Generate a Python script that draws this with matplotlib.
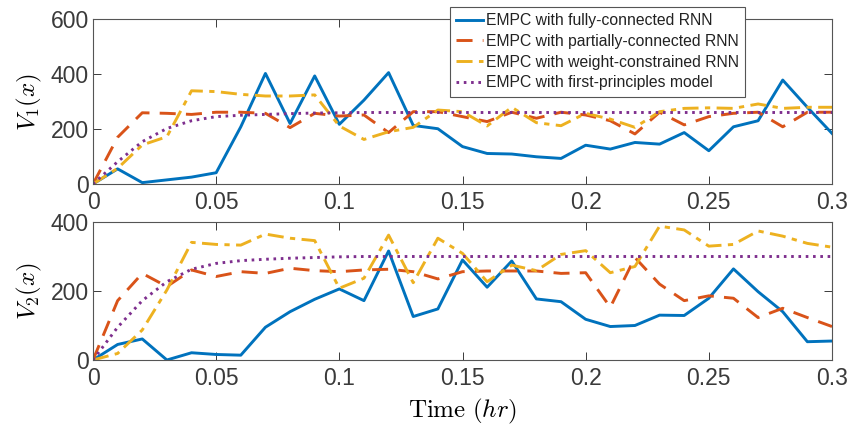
import numpy as np
import matplotlib
matplotlib.use("Agg")
import matplotlib.pyplot as plt

plt.rcParams['mathtext.fontset'] = 'cm'
plt.rcParams['font.family'] = ['Liberation Sans', 'DejaVu Sans']

t = [round(0.01 * i, 2) for i in range(31)]

labels = ["EMPC with fully-connected RNN",
          "EMPC with partially-connected RNN",
          "EMPC with weight-constrained RNN",
          "EMPC with first-principles model"]

v1_full = [0, 55, 5, 15, 25, 41, 208, 402, 220, 393, 217, 305, 405, 213, 201, 136,
           111, 109, 99, 93, 141, 127, 151, 145, 187, 121, 208, 230, 378, 279, 184]
v1_partial = [0, 170, 259, 257, 253, 261, 261, 257, 205, 257, 247, 251, 187, 263, 263, 245,
              227, 261, 239, 261, 251, 230, 182, 261, 215, 245, 257, 261, 208, 261, 261]
v1_weight = [0, 57, 142, 172, 339, 336, 326, 320, 320, 324, 211, 162, 190, 206, 269, 263,
             211, 279, 223, 212, 257, 236, 206, 263, 275, 277, 275, 291, 275, 279, 279]
v1_fp = [0, 81, 154, 202, 230, 245, 250, 253, 256, 258, 259, 260, 260, 260, 260, 260,
         260, 260, 260, 260, 260, 260, 260, 260, 260, 260, 260, 260, 260, 260, 260]

v2_full = [0, 45, 61, 0, 21, 16, 14, 95, 140, 176, 206, 172, 316, 126, 148, 290,
           211, 287, 177, 169, 118, 97, 100, 130, 129, 179, 264, 198, 140, 53, 55]
v2_partial = [0, 172, 251, 213, 261, 242, 256, 251, 266, 259, 256, 261, 263, 256, 235, 256,
              258, 258, 258, 251, 253, 153, 297, 220, 172, 186, 179, 123, 150, 123, 97]
v2_weight = [0, 19, 87, 203, 341, 335, 333, 365, 353, 346, 208, 237, 362, 224, 353, 309,
             227, 275, 259, 306, 317, 253, 271, 388, 377, 330, 335, 374, 359, 338, 327]
v2_fp = [0, 95, 172, 227, 263, 280, 288, 292, 295, 297, 299, 300, 300, 300, 300, 300,
         300, 300, 300, 300, 300, 300, 300, 300, 300, 300, 300, 300, 300, 300, 300]

colors = ['#0072BD', '#D95319', '#EDB120', '#7E2F8E']
styles = [dict(linestyle='-'),
          dict(linestyle=(0, (5.5, 3.5))),
          dict(linestyle=(0, (5.5, 2.2, 1.8, 2.2))),
          dict(linestyle=(0, (0.9, 1.6)))]

fig = plt.figure(figsize=(8.5, 4.29), dpi=100)
ax1 = fig.add_axes([93/850, 1-184/429, 739/850, 165/429])
ax2 = fig.add_axes([93/850, 1-360/429, 739/850, 138/429])

axc = '#3a3a3a'
def style(ax, ylim, yticks, ylabel):
    ax.set_xlim(0, 0.3)
    ax.set_ylim(*ylim)
    ax.set_xticks([0, 0.05, 0.1, 0.15, 0.2, 0.25, 0.3])
    ax.set_xticklabels(['0', '0.05', '0.1', '0.15', '0.2', '0.25', '0.3'])
    ax.set_yticks(yticks)
    ax.tick_params(direction='in', length=6, width=0.7, colors=axc, labelsize=16.5,
                   top=True, right=True, pad=5)
    ax.tick_params(axis='y', pad=3)
    for s in ax.spines.values():
        s.set_color('#555555')
        s.set_linewidth(0.8)
    ax.set_ylabel(ylabel, fontsize=18, color='black')

series1 = [v1_full, v1_partial, v1_weight, v1_fp]
series2 = [v2_full, v2_partial, v2_weight, v2_fp]
handles = []
for i in range(4):
    h, = ax1.plot(t, series1[i], color=colors[i], lw=2.1, label=labels[i], **styles[i])
    handles.append(h)
    ax2.plot(t, series2[i], color=colors[i], lw=2.1, **styles[i])

style(ax1, (0, 600), [0, 200, 400, 600], r'$V_1(x)$')
style(ax2, (0, 400), [0, 200, 400], r'$V_2(x)$')
ax1.yaxis.set_label_coords(-0.066, 0.5)
ax2.yaxis.set_label_coords(-0.066, 0.5)
ax2.set_xlabel(r'$\mathrm{Time}\ (hr)$', fontsize=18, labelpad=5)

leg = fig.legend(handles, labels, loc='upper left',
                 bbox_to_anchor=(450/850, 1-7/429), bbox_transform=fig.transFigure,
                 fontsize=11.3, frameon=True, fancybox=False, framealpha=1,
                 edgecolor='#555555', handlelength=1.7, handletextpad=0.2,
                 borderpad=0.4, labelspacing=0.36, borderaxespad=0)
leg.get_frame().set_linewidth(0.8)
for txt in leg.get_texts():
    txt.set_color('#222222')

fig.savefig('out.png', dpi=100)
